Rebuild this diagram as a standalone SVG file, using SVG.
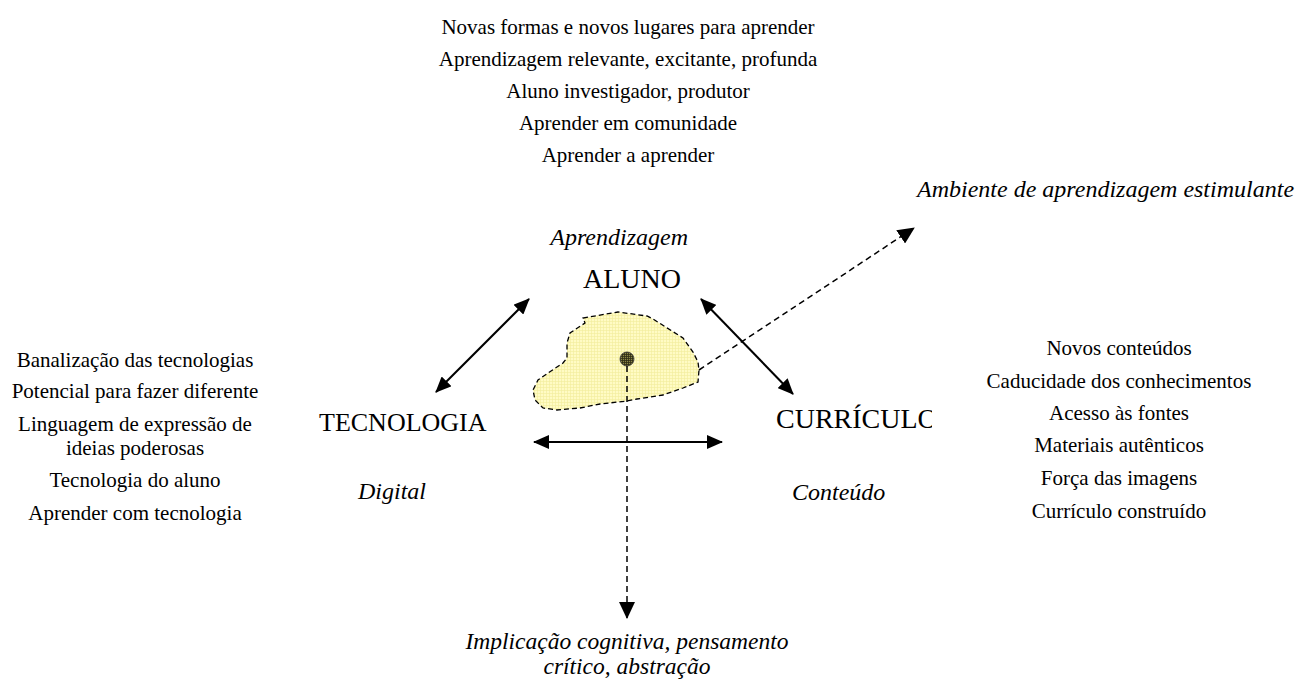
<svg xmlns="http://www.w3.org/2000/svg" width="1298" height="682" viewBox="0 0 1298 682">
<style>
text{font-family:"Liberation Serif","Times New Roman",serif;fill:#000}
.b{font-size:21px;text-anchor:middle}
.cap{font-size:27px}
.it{font-size:24px;font-style:italic}
.solid{stroke:#000;stroke-width:2;fill:none}
.dash{stroke:#000;stroke-width:1.5;fill:none;stroke-dasharray:6 4}
</style>
<defs>
<marker id="ah" markerUnits="userSpaceOnUse" markerWidth="16" markerHeight="14" refX="15" refY="7" orient="auto-start-reverse">
<path d="M0,0 L16,7 L0,14 z" fill="#000"/>
</marker>
<marker id="ahd" markerUnits="userSpaceOnUse" markerWidth="17" markerHeight="16" refX="16" refY="8" orient="auto">
<path d="M0,0 L17,8 L0,16 z" fill="#000"/>
</marker>
<pattern id="grid" width="3" height="3" patternUnits="userSpaceOnUse">
<rect width="3" height="3" fill="#fffbc4"/>
<path d="M0,0.5 H3 M0.5,0 V3" stroke="#f1ec9c" stroke-width="0.6"/>
</pattern>
<pattern id="dotp" width="2" height="2" patternUnits="userSpaceOnUse">
<rect width="2" height="2" fill="#8a8646"/>
<path d="M0,0.5 H2 M0.5,0 V2" stroke="#2e2c14" stroke-width="0.8"/>
</pattern>
<clipPath id="clipc"><rect x="700" y="380" width="232" height="70"/></clipPath>
</defs>

<g id="top-list">
<text class="b" x="628" y="34">Novas formas e novos lugares para aprender</text>
<text class="b" x="628" y="66">Aprendizagem relevante, excitante, profunda</text>
<text class="b" x="628" y="98">Aluno investigador, produtor</text>
<text class="b" x="628" y="130">Aprender em comunidade</text>
<text class="b" x="628" y="162">Aprender a aprender</text>
</g>

<g id="ambiente">
<text class="it" x="917" y="197">Ambiente de aprendizagem estimulante</text>
</g>

<g id="aluno">
<text class="it" x="688" y="245" text-anchor="end">Aprendizagem</text>
<text class="cap" x="583" y="288" style="font-size:28px">ALUNO</text>
</g>

<g id="tecnologia">
<text class="cap" x="319" y="431" style="font-size:26px">TECNOLOGIA</text>
<text class="it" x="358" y="499">Digital</text>
</g>

<g id="curriculo">
<text class="cap" x="776" y="428" style="font-size:28px" clip-path="url(#clipc)">CURRÍCULO</text>
<text class="it" x="792" y="500">Conteúdo</text>
</g>

<g id="left-list">
<text class="b" x="135" y="367">Banalização das tecnologias</text>
<text class="b" x="135" y="398">Potencial para fazer diferente</text>
<text class="b" x="135" y="431">Linguagem de expressão de</text>
<text class="b" x="135" y="455">ideias poderosas</text>
<text class="b" x="135" y="487">Tecnologia do aluno</text>
<text class="b" x="135" y="520">Aprender com tecnologia</text>
</g>

<g id="right-list">
<text class="b" x="1119" y="355">Novos conteúdos</text>
<text class="b" x="1119" y="388">Caducidade dos conhecimentos</text>
<text class="b" x="1119" y="420">Acesso às fontes</text>
<text class="b" x="1119" y="452">Materiais autênticos</text>
<text class="b" x="1119" y="485">Força das imagens</text>
<text class="b" x="1119" y="518">Currículo construído</text>
</g>

<g id="implicacao">
<text class="it" x="627" y="649" text-anchor="middle" style="font-size:23.5px">Implicação cognitiva, pensamento</text>
<text class="it" x="627" y="674" text-anchor="middle" style="font-size:23.5px">crítico, abstração</text>
</g>

<g id="blob">
<path d="M583,318 L618,312 L647,316 L653,319 L683,338 L693,352 L698,362 L699,370 L698,382 L683,388 L663,395 L637,399 L627,401 L600,404 L580,408 L557,410 L543,408 L535,400 L533,390 L538,380 L548,373 L563,363 L567,358 L567,343 L570,333 L585,323 Z" fill="url(#grid)" stroke="#000" stroke-width="1.3" stroke-dasharray="5 3"/>
<circle cx="627" cy="359" r="7" fill="url(#dotp)" stroke="#333" stroke-width="0.8"/>
</g>

<g id="connectors">
<line class="solid" x1="436" y1="392" x2="529" y2="299" marker-start="url(#ah)" marker-end="url(#ah)"/>
<line class="solid" x1="701" y1="299" x2="793" y2="394" marker-start="url(#ah)" marker-end="url(#ah)"/>
<line class="solid" x1="534" y1="442" x2="722" y2="442" marker-start="url(#ah)" marker-end="url(#ah)"/>
<line class="dash" x1="627" y1="366" x2="627" y2="618" marker-end="url(#ahd)"/>
<line class="dash" x1="699" y1="370" x2="914" y2="228" marker-end="url(#ahd)"/>
</g>
</svg>
